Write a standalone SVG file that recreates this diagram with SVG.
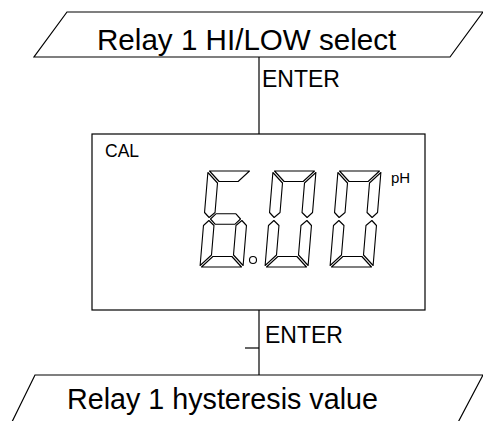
<svg xmlns="http://www.w3.org/2000/svg" width="483" height="421" viewBox="0 0 483 421">
<style>
.ln{fill:none;stroke:#000;stroke-width:1.2}
.sh{fill:#fff;stroke:#000;stroke-width:1.2}
.seg{fill:#fff;stroke:#000;stroke-width:1.1;stroke-linejoin:round}
.t{font-family:"Liberation Sans",Arial,Helvetica,sans-serif;fill:#000}
</style>
<defs>
<polygon id="sa" class="seg" points="1.5,0 41.5,0 31,10.5 12,10.5"/>
<polygon id="sb" class="seg" points="43,1.5 43,41.5 38,46.5 32.5,41.5 32.5,12"/>
<polygon id="sf" class="seg" points="0,1.5 10.5,12 10.5,41.5 5,46.5 0,41.5"/>
<polygon id="sg" class="seg" points="6.5,48 11.5,42.8 31.5,42.8 36.5,48 31.5,53.2 11.5,53.2"/>
<polygon id="se" class="seg" points="0,54.5 5,49.5 10.5,54.5 10.5,84 0,94.5"/>
<polygon id="sc" class="seg" points="43,54.5 38,49.5 32.5,54.5 32.5,84 43,94.5"/>
<polygon id="sd" class="seg" points="1.5,96 41.5,96 31,85.5 12,85.5"/>
<g id="d6"><use href="#sa"/><use href="#sf"/><use href="#sg"/><use href="#se"/><use href="#sc"/><use href="#sd"/></g>
<g id="d0"><use href="#sa"/><use href="#sb"/><use href="#sf"/><use href="#se"/><use href="#sc"/><use href="#sd"/></g>
</defs>
<g id="connectors">
<line class="ln" x1="259" y1="57" x2="259" y2="134"/>
<line class="ln" x1="259" y1="310" x2="259" y2="375"/>
<line class="ln" x1="245" y1="348" x2="259" y2="348"/>
<text class="t" x="262" y="87" font-size="23">ENTER</text>
<text class="t" x="265" y="343" font-size="23">ENTER</text>
</g>
<g id="node-top">
<polygon class="sh" points="67,12 483,12 450,57 34,57"/>
<text class="t" x="97" y="50" font-size="29.6">Relay 1 HI/LOW select</text>
</g>
<g id="node-display">
<rect class="sh" x="92" y="134" width="333" height="176"/>
<text class="t" x="105" y="157" font-size="17.5">CAL</text>
<text class="t" x="391" y="183" font-size="15">pH</text>
<g transform="translate(208,171) skewX(-4.76)"><use href="#d6"/></g>
<g transform="translate(273,171) skewX(-4.76)"><use href="#d0"/></g>
<g transform="translate(338,171) skewX(-4.76)"><use href="#d0"/></g>
<circle class="seg" cx="253" cy="260" r="3.5"/>
</g>
<g id="node-bottom">
<polygon class="sh" points="35,375 483,375 454,430 8,430"/>
<text class="t" x="67" y="409" font-size="28.7">Relay 1 hysteresis value</text>
</g>
</svg>
